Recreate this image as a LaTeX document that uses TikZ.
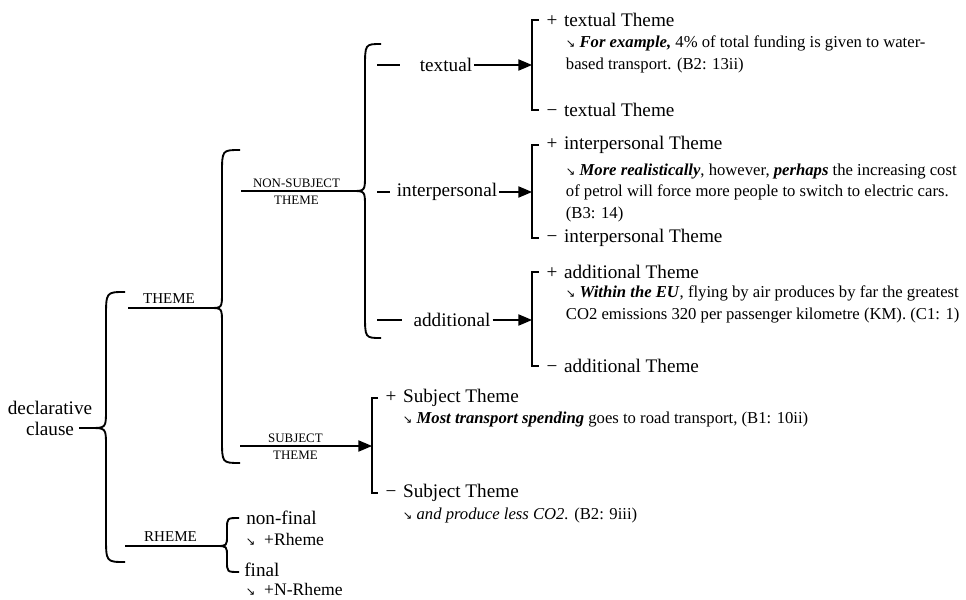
\documentclass[tikz,border=0pt]{standalone}
\usepackage{fontspec}
\setmainfont{Liberation Serif}
\newfontfamily\arrowfont{DejaVu Sans}
\usetikzlibrary{arrows}

\newcommand{\se}{{\arrowfont\fontsize{8.5}{8.5}\selectfont ↘}}
\newcommand{\bi}[1]{\textbf{\textit{#1}}}
\newcommand{\curly}[8]{%
	\draw (#3,#4) .. controls (#2,#4) .. (#2,#4+#7) -- (#2,#5-#8)
		.. controls (#2,#5) .. (#1,#5) .. controls (#2,#5) .. (#2,#5+#8)
		-- (#2,#6-#7) .. controls (#2,#6) .. (#3,#6);}

\begin{document}
\begin{tikzpicture}[>=triangle 45,line width=1.4pt,x=0.75pt,y=-0.75pt,
	main node/.style={inner sep=1pt,font=\fontsize{14.4}{15.8}\selectfont},
	option node/.style={main node,anchor=west,inner xsep=5pt},
	caps node/.style={inner sep=1pt,font=\fontsize{9.7}{11}\selectfont},
	big caps node/.style={inner sep=1pt,font=\fontsize{11.3}{13}\selectfont},
	example node/.style={inner sep=0pt,anchor=north west,align=left,font=\fontsize{12.5}{16}\selectfont},
	rheme node/.style={inner sep=0pt,anchor=west,font=\fontsize{13.2}{15}\selectfont},
	dash line/.style={shorten >=#1},dash line/.default=7pt]

	\useasboundingbox (0,0) rectangle (966,599);

	\node[main node,align=center] (clause) at (50,418) {declarative\\clause};
	\coordinate (c0) at (79,428);
	\coordinate (c1) at (90,428);
	\draw (c0) -- (c1);
	\curly{90}{106}{125}{292}{428}{562}{26}{18}

	\coordinate (th0) at (128,308);
	\coordinate (th1) at (210,308);
	\draw (th0) -- node[big caps node,above=2pt] (theme) {THEME} (th1);
	\coordinate (rh0) at (125,546);
	\coordinate (rh1) at (216,546);
	\draw (rh0) -- node[big caps node,above=2pt] (rheme) {RHEME} (rh1);
	\curly{210}{222}{240}{150}{308}{463}{24}{16}
	\curly{216}{227}{239}{518}{546}{572}{11}{11}

	\coordinate (ns0) at (241,191);
	\coordinate (ns1) at (352,191);
	\draw (ns0) -- node[caps node,above=1pt] (nsa) {NON-SUBJECT} node[caps node,below=2pt] (nsb) {THEME} (ns1);
	\curly{352}{365}{381}{44}{191}{338}{24}{16}

	\coordinate (st0) at (240,446);
	\coordinate (b4) at (372,446);
	\draw[->] (st0) -- node[caps node,above=1pt,pos=0.42] (sta) {SUBJECT} node[caps node,below=2pt,pos=0.42] (stb) {THEME} (b4);

	% non-subject branches
	\coordinate (t0) at (377,65);
	\coordinate (i0) at (377,192);
	\coordinate (a0) at (377,320);
	\coordinate (b1) at (532,65);
	\coordinate (b2) at (532,192);
	\coordinate (b3) at (532,320);
	\node[main node] (textual) at (446,65) {textual};
	\node[main node] (interp) at (447,192) {interpersonal};
	\node[main node] (additional) at (452,320) {additional};
	\draw[dash line=13pt] (t0) -- (textual);
	\draw[dash line=3.5pt] (i0) -- (interp);
	\draw[dash line=7pt] (a0) -- (additional);
	\draw[->] (textual) -- (b1);
	\draw[->] (interp) -- (b2);
	\draw[->] (additional) -- (b3);

	\node[option node] (tp) at (539,20) {+\hspace{5pt}textual Theme};
	\node[option node] (tm) at (539,110) {−\hspace{5pt}textual Theme};
	\draw (tp.west) -| (b1) |- (tm.west);
	\node[example node] (tx) at (565,35) {\se\ \bi{For example,} 4\% of total funding is given to water-\\based transport. (B2: 13ii)};

	\node[option node] (ip) at (539,145) {+\hspace{5pt}interpersonal Theme};
	\node[option node] (im) at (539,238) {−\hspace{5pt}interpersonal Theme};
	\draw (ip.west) -| (b2) |- (im.west);
	\node[example node] (ix) at (565,163) {\se\ \bi{More realistically}, however, \bi{perhaps} the increasing cost\\of petrol will force more people to switch to electric cars.\\(B3: 14)};

	\node[option node] (ap) at (539,272) {+\hspace{5pt}additional Theme};
	\node[option node] (am) at (539,366) {−\hspace{5pt}additional Theme};
	\draw (ap.west) -| (b3) |- (am.west);
	\node[example node] (ax) at (565,285) {\se\ \bi{Within the EU}, flying by air produces by far the greatest\\CO2 emissions 320 per passenger kilometre (KM). (C1: 1)};

	% subject theme
	\node[option node] (sp) at (378,398) {+\hspace{5pt}Subject Theme};
	\node[option node] (sm) at (378,493) {−\hspace{5pt}Subject Theme};
	\draw (sp.west) -| (b4) |- (sm.west);
	\node[example node] (spx) at (402,411) {\se\ \bi{Most transport spending} goes to road transport, (B1: 10ii)};
	\node[example node] (smx) at (402,507) {\se\ \textit{and produce less CO2.} (B2: 9iii)};

	% rheme
	\node[main node,anchor=west] (nonfinal) at (244,518) {non-final};
	\node[rheme node] (nfx) at (245,539) {\se\enspace+Rheme};
	\node[main node,anchor=west] (final) at (242,570) {final};
	\node[rheme node] (fx) at (245,589) {\se\enspace+N-Rheme};
\end{tikzpicture}
\end{document}
